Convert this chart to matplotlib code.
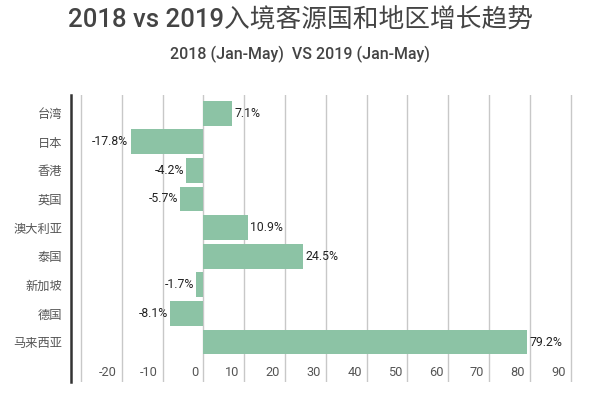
import matplotlib.pyplot as plt

plt.rcParams['font.family'] = ['Roboto', 'Noto Sans CJK SC', 'DejaVu Sans']

# Data
regions = ['台湾', '日本', '香港', '英国', '澳大利亚', '泰国', '新加坡', '德国', '马来西亚']
growth = [7.1, -17.8, -4.2, -5.7, 10.9, 24.5, -1.7, -8.1, 79.2]
grid_ticks = [-30, -20, -10, 0, 10, 20, 30, 40, 50, 60, 70, 80, 90]
tick_labels = [-20, -10, 0, 10, 20, 30, 40, 50, 60, 70, 80, 90]

bar_color = '#8cc3a5'
text_gray = '#555555'

fig = plt.figure(figsize=(6, 3.98), dpi=100)
ax = fig.add_axes([0.118, 0.040, 0.840, 0.721])

ypos = list(range(len(regions)))
ax.barh(ypos, growth, height=0.87, color=bar_color, zorder=3)

# vertical grid lines
for g in grid_ticks:
    ax.axvline(g, color='#c8c8c8', linewidth=1, zorder=1)

# value labels
for y, v in zip(ypos, growth):
    if v >= 0:
        ax.text(v + 0.6, y, f'{v}%', ha='left', va='center', fontsize=8.8,
                color='#222222', zorder=4)
    else:
        ax.text(v - 0.6, y, f'{v}%', ha='right', va='center', fontsize=8.8,
                color='#222222', zorder=4)

# bottom tick labels sit just left of their grid line, inside the plot
for t in tick_labels:
    ax.text(t - 1.2, 9.05, str(t), ha='right', va='center', fontsize=9.2,
            color=text_gray)

ax.set_xlim(-32.5, 91)
ax.set_ylim(9.4, -0.63)
ax.set_xticks([])
ax.set_yticks(ypos)
ax.set_yticklabels(regions, fontsize=8.8, color=text_gray)
ax.tick_params(axis='y', length=0, pad=6)

for side in ['top', 'right', 'bottom']:
    ax.spines[side].set_visible(False)
ax.spines['left'].set_color('#333333')
ax.spines['left'].set_linewidth(1.8)

fig.text(0.5, 0.948, '2018 vs 2019入境客源国和地区增长趋势', ha='center', va='center',
         fontsize=18.5, fontweight='medium', color='#444444')
fig.text(0.5, 0.862, '2018 (Jan-May)  VS 2019 (Jan-May)', ha='center', va='center',
         fontsize=11.5, fontweight='medium', color='#444444')

fig.savefig('out.png', dpi=100, facecolor='white')
